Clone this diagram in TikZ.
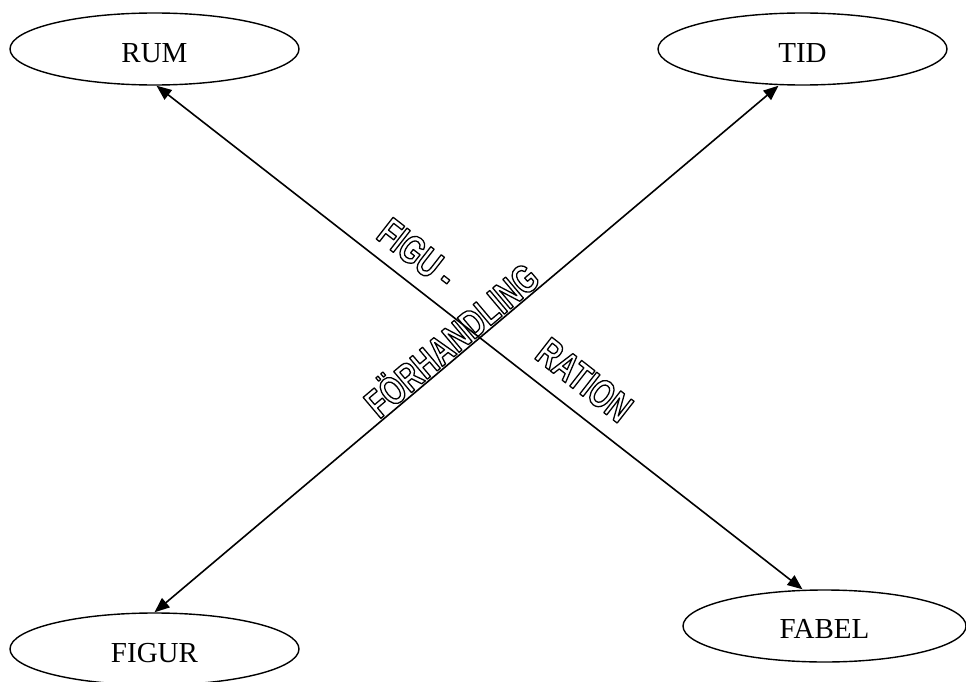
\documentclass[tikz,border=0pt]{standalone}
\usepackage{fontspec}
\setmainfont{Liberation Serif}
\newfontfamily\hollowfont{Liberation Sans Bold}[FakeStretch=0.72]
\usetikzlibrary{shapes.geometric,arrows.meta}

% outlined (stroked, unfilled) lettering
\newcommand\hollow[1]{\special{pdf:code q 1 Tr 1.3 w 1 j}#1\special{pdf:code Q}}

\tikzset{
  place/.style={ellipse, draw, line width=1.4pt, inner sep=0pt,
                minimum width=289pt, minimum height=72pt},
  placetext/.style={font=\fontsize{29}{31}\selectfont, inner sep=0pt},
  conn/.style={line width=1.6pt, {Triangle[length=15pt,width=12pt]}-{Triangle[length=15pt,width=12pt]}},
  banner/.style={sloped, anchor=south, inner sep=0pt,
                 font=\hollowfont\fontsize{40}{42}\selectfont}
}

\begin{document}
\begin{tikzpicture}[x=1pt, y=-1pt]
  \useasboundingbox (0,0) rectangle (966,682);
  \clip (0,0) rectangle (966,682);

  % four corner concepts
  \node[place] (rum)   at (154.5,49) {};
  \node[place] (tid)   at (802.5,49) {};
  \node[place] (figur) at (154.5,649) {};
  \node[place, minimum width=283pt] (fabel) at (824.5,626) {};

  \node[placetext] (rumtext)   at ([yshift=-4pt]rum.center)   {RUM};
  \node[placetext] (tidtext)   at ([yshift=-4pt]tid.center)   {TID};
  \node[placetext] (figurtext) at ([yshift=-4pt]figur.center) {FIGUR};
  \node[placetext] (fabeltext) at ([yshift=-3pt]fabel.center) {FABEL};

  % crossing double-headed connectors with their outlined labels
  \draw[conn] ([xshift=2pt]rum.south) --
      node[banner, pos=0.377, yshift=13pt] (figu) {\hollow{FIGU -}}
      node[banner, pos=0.633, yshift=16pt] (ration) {\hollow{RATION}}
      ([xshift=-22pt]fabel.north);
  \draw[conn] (figur.north) --
      node[banner, pos=0.493, yshift=1pt] (forh) {\hollow{FÖRHANDLING}}
      ([xshift=-24pt]tid.south);
\end{tikzpicture}
\end{document}
